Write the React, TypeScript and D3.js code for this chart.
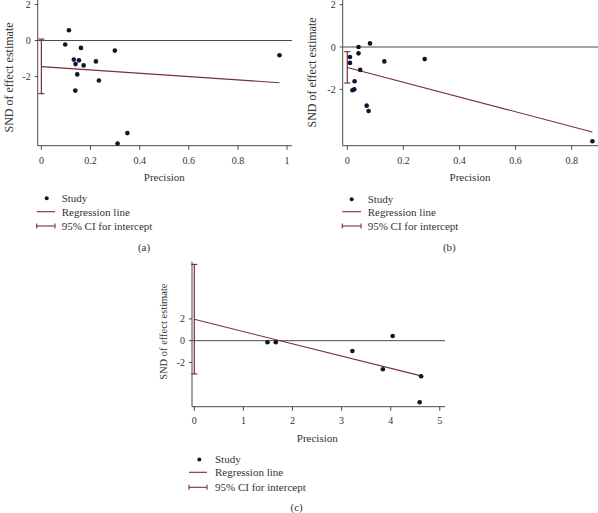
import React from "react";
import * as d3 from "d3";

// Panel (a)
const precisionA = [0.112, 0.097, 0.161, 0.132, 0.153, 0.139, 0.172, 0.222, 0.146, 0.234, 0.138, 0.299, 0.35, 0.31, 0.969];
const sndA = [0.57, -0.22, -0.41, -1.06, -1.1, -1.31, -1.38, -1.16, -1.88, -2.22, -2.78, -0.56, -5.14, -5.72, -0.82];
const regA = [-1.45, -0.92]; // intercept, slope
const ciA = [-2.95, 0.08];

// Panel (b)
const precisionB = [0.0096, 0.0096, 0.04, 0.04, 0.081, 0.046, 0.026, 0.018, 0.025, 0.069, 0.076, 0.132, 0.276, 0.874];
const sndB = [-0.47, -0.75, 0.0, -0.3, 0.17, -1.08, -1.62, -2.04, -2.0, -2.77, -3.02, -0.68, -0.57, -4.45];
const regB = [-0.97, -3.48];
const ciB = [-1.7, -0.22];

// Panel (c)
const precisionC = [1.49, 1.66, 3.22, 4.04, 3.84, 4.62, 4.59];
const sndC = [-0.15, -0.15, -0.95, 0.43, -2.62, -3.27, -5.65];
const regC = [1.96, -1.123];
const ciC = [-3.05, 7.0];

const yTicks = [2, 0, -2];
const xTicksA = [0, 0.2, 0.4, 0.6, 0.8, 1];
const xTicksB = [0, 0.2, 0.4, 0.6, 0.8];
const xTicksC = [0, 1, 2, 3, 4, 5];
const legendLabels = ["Study", "Regression line", "95% CI for intercept"];

const DOT = "#0c1530";
const RED = "#7a2f33";
const AXIS = "#4a4a4a";
const TEXT = "#333";
const FONT = "'Liberation Serif', 'Times New Roman', serif";

type PanelProps = {
  xs: number[];
  ys: number[];
  reg: number[];
  ci: number[];
  xTicks: number[];
  xDomain: [number, number];
  xRange: [number, number];
  yDomain: [number, number];
  yRange: [number, number];
  yLabelX: number;
  yLabelY: number;
  yLabelSize: number;
  precisionX: number;
  precisionY: number;
  tickLabelY: number;
  legendX: number;
  legendDotX: number;
  legendLine: [number, number];
  legendYs: number[];
  tagX: number;
  tagY: number;
  tag: string;
  fmt: (v: number) => string;
};

function Panel(p: PanelProps) {
  const x = d3.scaleLinear().domain(p.xDomain).range(p.xRange);
  const y = d3.scaleLinear().domain(p.yDomain).range(p.yRange);
  const [x0, x1] = p.xRange;
  const [yb, yt] = p.yRange;
  const maxX = d3.max(p.xs) as number;
  const line = d3.line<number>().x((v) => x(v)).y((v) => y(p.reg[0] + p.reg[1] * v));
  const cx = x(0);
  const [l0, l1] = p.legendLine;
  return (
    <g fontFamily={FONT} fill={TEXT}>
      {/* axes */}
      <line x1={x0} x2={x0} y1={yt} y2={yb} stroke={AXIS} strokeWidth={1} />
      <line x1={x0} x2={x1} y1={yb} y2={yb} stroke={AXIS} strokeWidth={1} />
      <line x1={x0} x2={x1} y1={y(0)} y2={y(0)} stroke={AXIS} strokeWidth={1} />
      {yTicks.map((t) => (
        <g key={t}>
          <line x1={x0 - 3} x2={x0} y1={y(t)} y2={y(t)} stroke={AXIS} />
          <text x={x0 - 7} y={y(t)} dy="0.35em" textAnchor="end" fontSize={10}>
            {String(t)}
          </text>
        </g>
      ))}
      {p.xTicks.map((t) => (
        <g key={t}>
          <line x1={x(t)} x2={x(t)} y1={yb} y2={yb + 4} stroke={AXIS} />
          <text x={x(t)} y={p.tickLabelY} dy="0.35em" textAnchor="middle" fontSize={10}>
            {p.fmt(t)}
          </text>
        </g>
      ))}
      <text
        transform={`translate(${p.yLabelX},${p.yLabelY}) rotate(-90)`}
        textAnchor="middle"
        dy="0.35em"
        fontSize={p.yLabelSize}
      >
        SND of effect estimate
      </text>
      <text x={p.precisionX} y={p.precisionY} dy="0.35em" textAnchor="middle" fontSize={11}>
        Precision
      </text>
      {/* CI */}
      <line x1={cx} x2={cx} y1={y(p.ci[0])} y2={y(p.ci[1])} stroke={RED} strokeWidth={1.2} />
      <line x1={cx - 3} x2={cx + 3} y1={y(p.ci[0])} y2={y(p.ci[0])} stroke={RED} strokeWidth={1.2} />
      <line x1={cx - 3} x2={cx + 3} y1={y(p.ci[1])} y2={y(p.ci[1])} stroke={RED} strokeWidth={1.2} />
      {/* regression */}
      <path d={line([0, maxX]) || ""} stroke={RED} strokeWidth={1.1} fill="none" />
      {p.xs.map((v, i) => (
        <circle key={i} cx={x(v)} cy={y(p.ys[i])} r={2.3} fill={DOT} />
      ))}
      {/* legend */}
      <circle cx={p.legendDotX} cy={p.legendYs[0]} r={2} fill={DOT} />
      <line x1={l0} x2={l1} y1={p.legendYs[1]} y2={p.legendYs[1]} stroke={RED} strokeWidth={1.1} />
      <line x1={l0} x2={l1} y1={p.legendYs[2]} y2={p.legendYs[2]} stroke={RED} strokeWidth={1.1} />
      <line x1={l0} x2={l0} y1={p.legendYs[2] - 2.5} y2={p.legendYs[2] + 2.5} stroke={RED} strokeWidth={1.1} />
      <line x1={l1} x2={l1} y1={p.legendYs[2] - 2.5} y2={p.legendYs[2] + 2.5} stroke={RED} strokeWidth={1.1} />
      {legendLabels.map((s, i) => (
        <text key={s} x={p.legendX} y={p.legendYs[i]} dy="0.35em" fontSize={11}>
          {s}
        </text>
      ))}
      <text x={p.tagX} y={p.tagY} dy="0.35em" textAnchor="middle" fontSize={11}>
        {p.tag}
      </text>
    </g>
  );
}

const fmtDec = (v: number) => (v === 0 || v === 1 ? String(v) : v.toFixed(1));
const fmtInt = (v: number) => String(v);

export default function App() {
  return (
    <svg
      width={598}
      height={513}
      style={{ position: "absolute", left: 0, top: 0, background: "#fff" }}
    >
      <Panel
        xs={precisionA}
        ys={sndA}
        reg={regA}
        ci={ciA}
        xTicks={xTicksA}
        xDomain={[-0.015, 1.02]}
        xRange={[37.7, 292]}
        yDomain={[-5.84, 2.25]}
        yRange={[145.7, 0]}
        yLabelX={9}
        yLabelY={77.5}
        yLabelSize={12}
        precisionX={164.3}
        precisionY={176.7}
        tickLabelY={160.5}
        legendX={61.7}
        legendDotX={46.7}
        legendLine={[36.7, 55]}
        legendYs={[198.3, 211.7, 226]}
        tagX={144}
        tagY={247.3}
        tag="(a)"
        fmt={fmtDec}
      />
      <Panel
        xs={precisionB}
        ys={sndB}
        reg={regB}
        ci={ciB}
        xTicks={xTicksB}
        xDomain={[-0.0164, 0.894]}
        xRange={[342.7, 598]}
        yDomain={[-4.66, 2.22]}
        yRange={[145.7, 0]}
        yLabelX={312}
        yLabelY={72.5}
        yLabelSize={12}
        precisionX={470}
        precisionY={176.7}
        tickLabelY={160.5}
        legendX={367.7}
        legendDotX={351.7}
        legendLine={[342.3, 361]}
        legendYs={[199.3, 211.7, 226]}
        tagX={449.3}
        tagY={247.3}
        tag="(b)"
        fmt={fmtDec}
      />
      <Panel
        xs={precisionC}
        ys={sndC}
        reg={regC}
        ci={ciC}
        xTicks={xTicksC}
        xDomain={[-0.047, 5.106]}
        xRange={[192, 445]}
        yDomain={[-6.06, 7.25]}
        yRange={[406.7, 261.7]}
        yLabelX={163.5}
        yLabelY={331.7}
        yLabelSize={10.5}
        precisionX={317.3}
        precisionY={438.3}
        tickLabelY={420.7}
        legendX={215}
        legendDotX={199.3}
        legendLine={[189, 207]}
        legendYs={[459.5, 472.3, 487.3]}
        tagX={296.7}
        tagY={507.3}
        tag="(c)"
        fmt={fmtInt}
      />
    </svg>
  );
}
